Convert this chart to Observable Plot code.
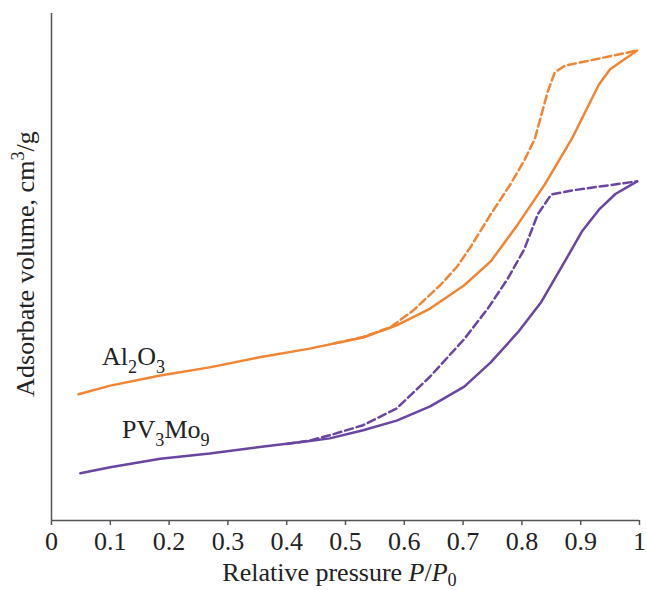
<!DOCTYPE html>
<html><head><meta charset="utf-8">
<script src="https://cdn.jsdelivr.net/npm/d3@7"></script>
<script src="https://cdn.jsdelivr.net/npm/@observablehq/plot@0.6"></script>
<style>body{margin:0;background:#fff} svg{display:block}</style>
</head><body><div id="chart"></div>
<script>
// Al2O3 adsorption (solid)
const alAdsX = [0.046,0.100,0.185,0.269,0.354,0.439,0.530,0.587,0.644,0.702,0.747,0.793,0.839,0.885,0.931,0.950,0.996];
const alAdsY = [24.9,26.6,28.6,30.2,32.2,33.9,36.1,38.5,41.8,46.4,51.1,58.4,66.3,75.3,86.0,89.0,92.7];
// Al2O3 desorption (dashed)
const alDesX = [0.480,0.530,0.576,0.615,0.661,0.690,0.713,0.747,0.781,0.804,0.822,0.844,0.856,0.873,0.996];
const alDesY = [34.9,36.2,38.1,41.4,46.4,50.1,54.0,60.4,66.4,71.0,75.3,84.6,88.4,89.7,92.7];
// PV3Mo9 adsorption (solid)
const pvAdsX = [0.049,0.100,0.185,0.269,0.354,0.439,0.473,0.530,0.587,0.644,0.702,0.747,0.793,0.833,0.873,0.902,0.931,0.959,0.996];
const pvAdsY = [9.3,10.5,12.2,13.2,14.5,15.7,16.2,17.8,19.7,22.5,26.4,31.2,37.1,43.1,51.1,57.0,61.3,64.4,66.9];
// PV3Mo9 desorption (dashed)
const pvDesX = [0.400,0.440,0.473,0.530,0.587,0.644,0.702,0.742,0.776,0.804,0.827,0.850,0.885,0.996];
const pvDesY = [15.1,15.8,16.8,18.8,22.1,28.4,35.8,41.8,47.7,53.5,60.4,64.3,65.1,66.9];
const xTicks = [0,0.1,0.2,0.3,0.4,0.5,0.6,0.7,0.8,0.9,1];

const orange = "#f28432", purple = "#6a45a2";
const mk = (xs, ys) => xs.map((x, i) => ({x, y: ys[i]}));
const font = "'Liberation Serif','Times New Roman',serif";
const FS = 26;

const plot = Plot.plot({
  width: 647, height: 590,
  marginTop: 13, marginBottom: 70, marginLeft: 51, marginRight: 8,
  style: {fontFamily: font, fontSize: FS + "px", color: "#222", background: "#fff"},
  x: {domain: [0, 1]},
  y: {domain: [0, 100], axis: null},
  marks: [
    Plot.ruleX([0], {stroke: "#555", strokeWidth: 1.5}),
    Plot.ruleY([0], {stroke: "#555", strokeWidth: 1.5}),
    Plot.axisX({ticks: xTicks, tickSize: 5, tickPadding: 6, stroke: "#555", strokeWidth: 1.5,
      tickFormat: d => String(+d.toFixed(1)), label: null, fill: "#222"}),
    Plot.line(mk(alAdsX, alAdsY), {x: "x", y: "y", stroke: orange, strokeWidth: 2.5}),
    Plot.line(mk(alDesX, alDesY), {x: "x", y: "y", stroke: orange, strokeWidth: 2.5, strokeDasharray: "8,4"}),
    Plot.line(mk(pvAdsX, pvAdsY), {x: "x", y: "y", stroke: purple, strokeWidth: 2.5}),
    Plot.line(mk(pvDesX, pvDesY), {x: "x", y: "y", stroke: purple, strokeWidth: 2.5, strokeDasharray: "8,4"}),
    Plot.text(["Al2O3"], {x: 0.086, y: 30.6, text: d => d, textAnchor: "start", lineAnchor: "bottom", fill: "#222"}),
    Plot.text(["PV3Mo9"], {x: 0.120, y: 16.2, text: d => d, textAnchor: "start", lineAnchor: "bottom", fill: "#222"}),
    Plot.text(["Relative pressure P/P0"], {frameAnchor: "bottom", dx: -6, dy: 60, text: d => d, textAnchor: "middle", lineAnchor: "bottom", fill: "#222"}),
    Plot.text(["Adsorbate volume, cm3/g"], {frameAnchor: "left", dx: -26, dy: -3, rotate: -90, text: d => d, textAnchor: "middle", lineAnchor: "middle", fill: "#222"})
  ]
});

function rich(svg, match, parts, size, subShift = 0.28) {
  d3.select(svg).selectAll("text").filter(function() { return this.textContent === match; }).each(function() {
    const t = d3.select(this);
    t.text(null);
    let shift = 0;
    for (const p of parts) {
      const s = t.append("tspan").text(p.t);
      const target = p.sub ? size * subShift : p.sup ? -size * 0.38 : 0;
      s.attr("dy", target - shift);
      shift = target;
      if (p.sub || p.sup) s.attr("font-size", size * 0.7);
      if (p.i) s.attr("font-style", "italic");
    }
  });
}
rich(plot, "Al2O3", [{t: "Al"}, {t: "2", sub: 1}, {t: "O"}, {t: "3", sub: 1}], FS);
rich(plot, "PV3Mo9", [{t: "PV"}, {t: "3", sub: 1}, {t: "Mo"}, {t: "9", sub: 1}], FS);
rich(plot, "Relative pressure P/P0", [{t: "Relative pressure "}, {t: "P", i: 1}, {t: "/"}, {t: "P", i: 1}, {t: "0", sub: 1}], FS, 0.2);
rich(plot, "Adsorbate volume, cm3/g", [{t: "Adsorbate volume, cm"}, {t: "3", sup: 1}, {t: "/g"}], FS);

document.getElementById("chart").appendChild(plot);
</script>
</body></html>
